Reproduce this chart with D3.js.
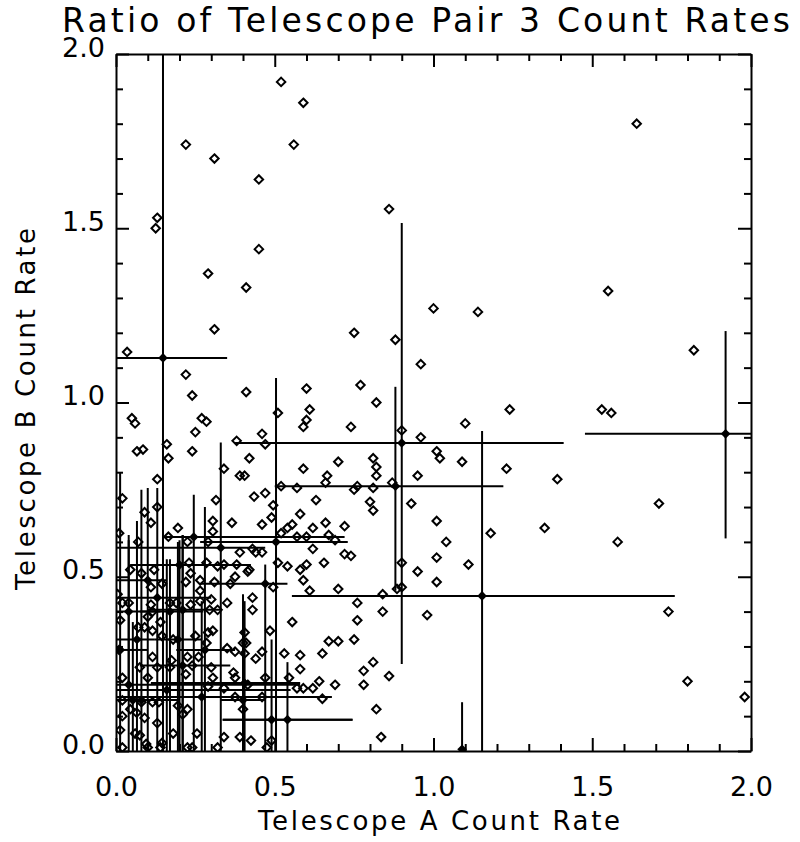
<!DOCTYPE html>
<html>
<head>
<meta charset="utf-8">
<script src="https://cdn.jsdelivr.net/npm/d3@7"></script>
<style>
  body { margin: 0; background: #fff; }
  text { font-family: "DejaVu Sans", sans-serif; fill: #000; }
</style>
</head>
<body>
<div id="chart"></div>
<script>
// tick values and labels
const majorTicks = [0, 0.5, 1.0, 1.5, 2.0];
const tickLabels = ["0.0", "0.5", "1.0", "1.5", "2.0"];
const minorTicks = [0.1, 0.2, 0.3, 0.4, 0.6, 0.7, 0.8, 0.9, 1.1, 1.2, 1.3, 1.4, 1.6, 1.7, 1.8, 1.9];

// individual count-rate pairs (open diamonds), [A rate, B rate]
const ratePairs = [
  [0.52,1.92],[0.59,1.86],[0.22,1.74],[0.56,1.74],[0.31,1.70],[0.45,1.64],[0.13,1.53],[0.125,1.50],
  [0.45,1.44],[0.29,1.37],[0.41,1.33],[0.31,1.21],[0.75,1.20],[0.035,1.145],[0.22,1.08],[0.24,1.02],
  [0.41,1.03],[0.60,1.04],[0.86,1.555],[1.00,1.27],[1.14,1.26],[0.88,1.18],[0.96,1.11],[0.77,1.05],
  [1.64,1.80],[1.55,1.32],[1.82,1.15],
  [1.24,0.98],[1.53,0.98],[1.56,0.97],[1.23,0.81],[1.39,0.78],[1.71,0.71],[1.35,0.64],[1.58,0.60],
  [1.74,0.40],[1.80,0.20],[1.98,0.155],
  [0.82,1.00],[0.61,0.98],[0.60,0.95],[0.59,0.93],[0.46,0.91],[0.47,0.88],[0.74,0.93],[0.90,0.92],
  [0.96,0.90],[1.10,0.94],[1.01,0.86],[1.02,0.84],[1.09,0.83],[0.42,0.84],[0.59,0.81],[0.70,0.83],
  [0.81,0.84],[0.82,0.815],[0.82,0.79],[0.95,0.79],[0.665,0.79],[0.66,0.77],[0.52,0.76],[0.57,0.755],
  [0.76,0.76],[0.75,0.75],[0.81,0.755],[0.87,0.77],[0.435,0.73],[0.47,0.74],[0.63,0.72],[0.80,0.715],
  [0.81,0.69],[0.93,0.71],[0.58,0.68],[0.555,0.65],[0.54,0.64],[0.46,0.65],[0.495,0.705],[0.62,0.64],
  [0.66,0.655],[0.72,0.645],[0.67,0.62],[0.69,0.605],[0.60,0.615],[0.62,0.58],[0.72,0.565],[0.74,0.56],
  [1.01,0.66],[1.04,0.60],[1.18,0.625],[1.01,0.555],[1.11,0.535],[0.95,0.515],[0.90,0.54],[0.655,0.54],
  [0.60,0.535],[0.58,0.52],[0.54,0.53],[0.51,0.54],[0.59,0.49],[0.61,0.46],[0.70,0.465],[1.01,0.485],
  [0.885,0.465],[0.90,0.47],[0.84,0.45],[0.76,0.425],[0.84,0.40],[0.76,0.375],[0.98,0.39],[0.555,0.37],
  [0.43,0.44],[0.43,0.405],[0.44,0.57],[0.42,0.52],
  [0.67,0.315],[0.70,0.315],[0.75,0.32],[0.53,0.28],[0.58,0.275],[0.65,0.28],[0.81,0.255],[0.78,0.23],
  [0.86,0.215],[0.58,0.235],[0.545,0.21],[0.64,0.20],[0.69,0.19],[0.57,0.18],[0.59,0.18],[0.62,0.18],
  [0.78,0.19],[0.65,0.15],[0.82,0.12],[0.835,0.04],
  [0.05,0.955],[0.06,0.94],[0.066,0.86],[0.085,0.865],[0.16,0.88],[0.165,0.84],[0.27,0.955],[0.285,0.945],
  [0.25,0.915],[0.24,0.86],[0.38,0.89],[0.51,0.97],[0.34,0.81],[0.39,0.79],[0.405,0.79],[0.13,0.78],
  [0.02,0.725],[0.315,0.72],[0.09,0.685],[0.13,0.70],[0.11,0.655],[0.49,0.67],[0.305,0.66],[0.365,0.655],
  [0.195,0.64],[0.165,0.615],[0.07,0.60],[0.01,0.625],[0.225,0.60],[0.29,0.60],[0.305,0.63],[0.52,0.625],
  [0.57,0.615],[0.46,0.57],[0.43,0.58],[0.39,0.57],[0.38,0.535],[0.34,0.535],[0.285,0.54],[0.23,0.54],
  [0.415,0.515],[0.375,0.50],[0.36,0.48],[0.045,0.52],[0.08,0.51],[0.12,0.52],[0.145,0.48],[0.22,0.485],
  [0.11,0.47],[0.265,0.46],[0.31,0.485],
  [0.32,0.53],[0.235,0.51],[0.265,0.49],[0.495,0.47],[0.005,0.45],
  [0.02,0.425],[0.04,0.425],[0.11,0.42],[0.17,0.425],[0.19,0.425],[0.235,0.42],[0.265,0.43],[0.30,0.435],
  [0.35,0.425],[0.295,0.405],[0.32,0.405],[0.10,0.385],[0.115,0.40],[0.14,0.37],[0.013,0.375],[0.07,0.355],
  [0.09,0.355],[0.115,0.345],[0.145,0.33],[0.18,0.32],[0.25,0.33],[0.29,0.34],[0.305,0.345],[0.285,0.31],
  [0.405,0.34],[0.40,0.31],[0.41,0.31],[0.485,0.345],[0.35,0.295],[0.375,0.285],[0.405,0.28],[0.46,0.285],
  [0.44,0.265],[0.01,0.29],[0.115,0.27],[0.175,0.26],[0.225,0.27],[0.26,0.27],[0.24,0.245],[0.30,0.24],
  [0.075,0.24],[0.13,0.24],[0.17,0.24],[0.22,0.22],[0.305,0.21],[0.37,0.225],[0.375,0.21],[0.47,0.21],
  [0.02,0.21],[0.10,0.21],[0.29,0.185],[0.34,0.18],[0.415,0.19],
  [0.02,0.145],[0.045,0.12],[0.02,0.10],[0.065,0.11],[0.08,0.14],[0.115,0.14],[0.135,0.14],[0.09,0.095],
  [0.13,0.08],[0.075,0.045],[0.06,0.05],[0.095,0.02],[0.145,0.023],[0.18,0.05],[0.195,0.13],[0.21,0.105],
  [0.225,0.12],[0.255,0.05],[0.375,0.155],[0.40,0.12],[0.46,0.155],[0.34,0.04],[0.39,0.04],[0.425,0.03],
  [0.49,0.03],[0.02,0.01],[0.10,0.01],[0.14,0.01],[0.225,0.01],[0.24,0.01],[0.32,0.01],[0.475,0.01],
  [0.013,0.06]
];

// averaged points with error bars
const errX   = [0.148, 0.90, 0.88, 1.153, 1.92, 1.09, 0.49, 0.54, 0.27, 0.10, 0.13, 0.17, 0.245, 0.28, 0.33, 0.20, 0.04, 0.16, 0.405, 0.04, 0.013, 0.053, 0.47, 0.21, 0.504, 0.066, 0.08, 0.195, 0.21, 0.40];
const errY   = [1.128, 0.884, 0.76, 0.445, 0.91, 0.005, 0.09, 0.09, 0.155, 0.49, 0.44, 0.40, 0.614, 0.29, 0.583, 0.534, 0.19, 0.175, 0.195, 0.40, 0.29, 0.146, 0.48, 0.245, 0.60, 0.32, 0.146, 0.32, 0.405, 0.146];
const errXLo = [0.0, 0.375, 0.50, 0.554, 1.477, 1.09, 0.336, 0.336, 0.0, 0.0, 0.0, 0.075, 0.155, 0.19, 0.0, 0.045, 0.0, 0.0, 0.11, 0.0, 0.0, 0.0, 0.265, 0.075, 0.265, 0.0, 0.02, 0.12, 0.10, 0.33];
const errXHi = [0.35, 1.41, 1.22, 1.76, 2.36, 1.09, 0.745, 0.745, 0.68, 0.16, 0.30, 0.275, 0.72, 0.375, 0.47, 0.425, 0.58, 0.55, 0.58, 0.14, 0.10, 0.20, 0.54, 0.36, 0.73, 0.12, 0.15, 0.27, 0.33, 0.47];
const errYLo = [-0.3, 0.25, 0.46, -0.03, 0.61, -0.13, -0.1, -0.07, -0.2, -0.25, -0.3, -0.2, -0.3, -0.1, -0.3, -0.2, -0.3, -0.2, -0.1, 0.15, -0.3, -0.2, -0.1, -0.2, -0.1, -0.2, -0.2, -0.2, -0.2, -0.1];
const errYHi = [2.55, 1.515, 1.045, 0.918, 1.205, 0.14, 0.32, 0.255, 0.43, 0.755, 0.755, 0.55, 0.735, 0.70, 0.885, 0.605, 0.62, 0.55, 0.43, 0.605, 0.80, 0.37, 0.535, 0.62, 1.07, 0.66, 0.75, 0.60, 0.62, 0.45];

// set the dimensions and margins of the graph
let margin = {top: 54, right: 49, bottom: 91, left: 116},
    width = 800 - margin.left - margin.right,
    height = 842 - margin.top - margin.bottom;

let svg = d3.select("#chart")
  .append("svg")
    .attr("width", 800)
    .attr("height", 842);

let plot = svg.append("g")
    .attr("transform", "translate(" + margin.left + "," + margin.top + ")");

let x = d3.scaleLinear().domain([0, 2]).range([0, width]);
let y = d3.scaleLinear().domain([0, 2]).range([height, 0]);

plot.append("clipPath")
    .attr("id", "clip")
  .append("rect")
    .attr("width", width)
    .attr("height", height);

// IDL style diamond: a square turned 45 degrees
let diamond = {
  draw: function(context, size) {
    let r = Math.sqrt(size / 2);
    context.moveTo(0, -r);
    context.lineTo(r, 0);
    context.lineTo(0, r);
    context.lineTo(-r, 0);
    context.closePath();
  }
};

let marks = plot.append("g").attr("clip-path", "url(#clip)");

// open diamonds
marks.selectAll(".pair")
  .data(ratePairs)
  .enter()
  .append("path")
    .attr("class", "pair")
    .attr("transform", d => "translate(" + x(d[0]) + "," + y(d[1]) + ")")
    .attr("d", d3.symbol().type(diamond).size(36))
    .attr("fill", "none")
    .attr("stroke", "#000")
    .attr("stroke-width", 2);

// error bars
let bars = errX.map((v, i) => ({x: v, y: errY[i], xlo: errXLo[i], xhi: errXHi[i], ylo: errYLo[i], yhi: errYHi[i]}));

marks.selectAll(".hbar")
  .data(bars)
  .enter()
  .append("line")
    .attr("x1", d => x(d.xlo))
    .attr("x2", d => x(d.xhi))
    .attr("y1", d => y(d.y))
    .attr("y2", d => y(d.y))
    .attr("stroke", "#000")
    .attr("stroke-width", 2);

marks.selectAll(".vbar")
  .data(bars)
  .enter()
  .append("line")
    .attr("x1", d => x(d.x))
    .attr("x2", d => x(d.x))
    .attr("y1", d => y(d.ylo))
    .attr("y2", d => y(d.yhi))
    .attr("stroke", "#000")
    .attr("stroke-width", 2);

marks.selectAll(".mean")
  .data(bars)
  .enter()
  .append("path")
    .attr("transform", d => "translate(" + x(d.x) + "," + y(d.y) + ")")
    .attr("d", d3.symbol().type(diamond).size(46))
    .attr("fill", "#000");

// axes: major ticks with labels, minor ticks without, all pointing inward
function styleAxis(g) {
  g.selectAll("path, line").attr("stroke", "#000").attr("stroke-width", 2);
}

plot.append("g")
    .attr("transform", "translate(0," + height + ")")
    .call(d3.axisBottom(x).tickValues(majorTicks).tickSizeInner(-13).tickSizeOuter(0)
      .tickFormat((d, i) => tickLabels[i]))
    .call(styleAxis)
    .call(g => g.selectAll("text").attr("y", 45).attr("dy", 0)
      .style("font-size", "27px").style("font-family", "DejaVu Sans"));

plot.append("g")
    .attr("transform", "translate(0," + height + ")")
    .call(d3.axisBottom(x).tickValues(minorTicks).tickSize(-7).tickFormat(""))
    .call(styleAxis)
    .call(g => g.select(".domain").remove());

plot.append("g")
    .call(d3.axisLeft(y).tickValues(majorTicks).tickSizeInner(-13).tickSizeOuter(0)
      .tickFormat((d, i) => tickLabels[i]))
    .call(styleAxis)
    .call(g => g.selectAll("text").attr("x", -11).attr("y", 2).attr("dy", 0)
      .style("font-size", "27px").style("font-family", "DejaVu Sans"));

plot.append("g")
    .call(d3.axisLeft(y).tickValues(minorTicks).tickSize(-7).tickFormat(""))
    .call(styleAxis)
    .call(g => g.select(".domain").remove());

plot.append("g")
    .call(d3.axisTop(x).tickValues(majorTicks).tickSizeInner(-13).tickSizeOuter(0).tickFormat(""))
    .call(styleAxis);

plot.append("g")
    .call(d3.axisTop(x).tickValues(minorTicks).tickSize(-7).tickFormat(""))
    .call(styleAxis)
    .call(g => g.select(".domain").remove());

plot.append("g")
    .attr("transform", "translate(" + width + ",0)")
    .call(d3.axisRight(y).tickValues(majorTicks).tickSizeInner(-13).tickSizeOuter(0).tickFormat(""))
    .call(styleAxis);

plot.append("g")
    .attr("transform", "translate(" + width + ",0)")
    .call(d3.axisRight(y).tickValues(minorTicks).tickSize(-7).tickFormat(""))
    .call(styleAxis)
    .call(g => g.select(".domain").remove());

// titles
svg.append("text")
    .attr("x", 62)
    .attr("y", 32)
    .attr("textLength", 728)
    .attr("lengthAdjust", "spacing")
    .style("font-size", "33px")
    .text("Ratio of Telescope Pair 3 Count Rates");

svg.append("text")
    .attr("x", 439)
    .attr("y", 830)
    .attr("text-anchor", "middle")
    .attr("textLength", 362)
    .attr("lengthAdjust", "spacing")
    .style("font-size", "26px")
    .text("Telescope A Count Rate");

svg.append("text")
    .attr("transform", "translate(35,409) rotate(-90)")
    .attr("text-anchor", "middle")
    .attr("textLength", 362)
    .attr("lengthAdjust", "spacing")
    .style("font-size", "26px")
    .text("Telescope B Count Rate");
</script>
</body>
</html>
